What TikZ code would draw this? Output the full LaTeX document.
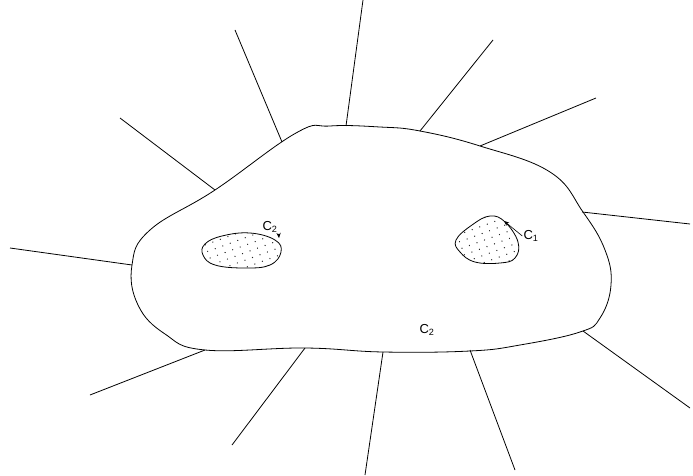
\documentclass[tikz,border=0pt]{standalone}
\usepackage{fontspec}
\setmainfont{Liberation Sans}
\usetikzlibrary{arrows.meta,patterns.meta}
\tikzdeclarepattern{name=stipple,type=uncolored,bounding box={(-1pt,-1pt) and (1pt,1pt)},
  tile size={(8pt,7pt)},tile transformation={rotate=20},
  code={\fill (0,0) circle (0.7pt);}}
\tikzset{
  outline/.style={draw,line width=0.8pt,smooth cycle,tension=0.7},
  blob/.style={outline,pattern=stipple,pattern color=black!85},
  ray/.style={line width=0.8pt},
  lbl/.style={font=\fontsize{13}{15}\selectfont,inner sep=1pt},
  ptr/.style={-{Stealth[length=1.8mm,width=1.5mm]},line width=0.6pt}
}

\begin{document}
\begin{tikzpicture}[x=1pt,y=-1pt]
\useasboundingbox (0,0) rectangle (693,476);
% main region
\draw[outline] plot coordinates {(296,133) (330,126) (380,127) (420,131) (480,146)
  (550,172) (583,212) (605,250) (611,285) (600,318) (580,332) (520,345) (470,351)
  (383,352) (305,348) (205,350) (165,334) (138,305) (132,265) (150,230) (215,190)};
% rays: inner end / outer end
\foreach \ix/\iy/\ox/\oy [count=\k] in {346/126/363/0, 282/142/235/30, 215/190/120/118,
  132/265/10/248, 205/350/90/395, 305/348/232/445, 383/352/365/475, 470/350/515/470,
  583/331/690/408, 582/212/690/224, 480/146/596/98, 420/131/493/40}{
  \coordinate (in\k) at (\ix,\iy);
  \coordinate (out\k) at (\ox,\oy);
  \draw[ray] (in\k) -- (out\k);
}
% holes
\draw[blob] plot coordinates {(205,244) (222,236) (250,233) (275,240) (281,252)
  (270,265) (245,268) (215,265) (203,255)};
\draw[blob] plot coordinates {(456,240) (472,225) (490,216) (505,222) (518,242)
  (515,258) (500,263) (475,262) (460,252)};
% labels
\node[lbl] (cl) at (270,227) {C\textsubscript{2}};
\node[lbl] (cr) at (531,236) {C\textsubscript{1}};
\node[lbl] (cb) at (427,330) {C\textsubscript{2}};
\coordinate (tl) at (279,238);
\coordinate (tr) at (504,221);
\draw[ptr] (cl.south east) -- (tl);
\draw[ptr] (cr.west) -- (tr);
\end{tikzpicture}
\end{document}
